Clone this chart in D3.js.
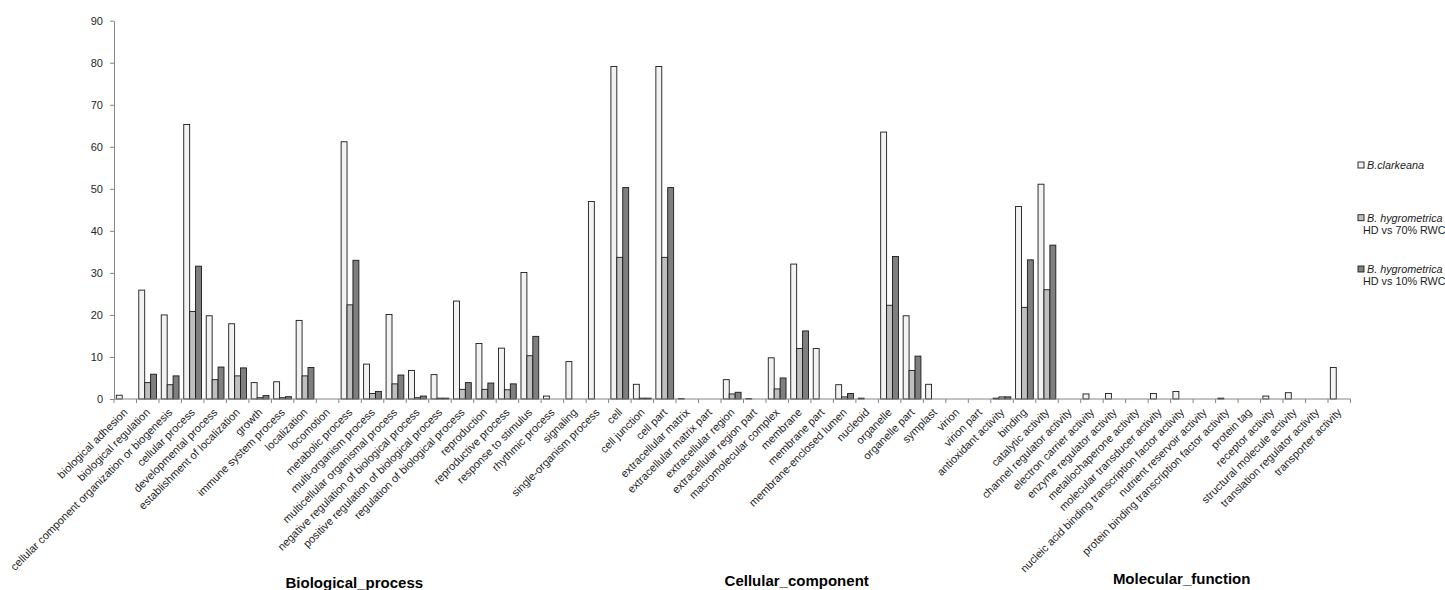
<!DOCTYPE html>
<html>
<head>
<meta charset="utf-8">
<script src="https://cdn.jsdelivr.net/npm/d3@7/dist/d3.min.js"></script>
<style>
  html, body { margin: 0; padding: 0; background: #fff; }
  svg { display: block; font-family: "Liberation Sans", Arial, sans-serif; }
  .lbl { opacity: 0.99; }
</style>
</head>
<body>
<svg id="chart" width="1445" height="590"></svg>
<script>
// ---- Data ----
const bpCategories = ["biological adhesion","biological regulation","cellular component organization or biogenesis","cellular process","developmental process","establishment of localization","growth","immune system process","localization","locomotion","metabolic process","multi-organism process","multicellular organismal process","negative regulation of biological process","positive regulation of biological process","regulation of biological process","reproduction","reproductive process","response to stimulus","rhythmic process","signaling","single-organism process"];
const ccCategories = ["cell","cell junction","cell part","extracellular matrix","extracellular matrix part","extracellular region","extracellular region part","macromolecular complex","membrane","membrane part","membrane-enclosed lumen","nucleoid","organelle","organelle part","symplast","virion","virion part"];
const mfCategories = ["antioxidant activity","binding","catalytic activity","channel regulator activity","electron carrier activity","enzyme regulator activity","metallochaperone activity","molecular transducer activity","nucleic acid binding transcription factor activity","nutrient reservoir activity","protein binding transcription factor activity","protein tag","receptor activity","structural molecule activity","translation regulator activity","transporter activity"];
const groupTitles = ["Biological_process","Cellular_component","Molecular_function"];

const seriesNames = ["B.clarkeana","B. hygrometrica HD vs 70% RWC","B. hygrometrica HD vs 10% RWC"];

const clarkeana = [
  0.9, 25.9, 20.0, 65.3, 19.8, 17.9, 3.9, 4.1, 18.7, 0, 61.2, 8.3, 20.1, 6.8, 5.8, 23.3, 13.2, 12.1, 30.1, 0.7, 8.9, 47.0,
  79.1, 3.5, 79.1, 0.1, 0, 4.6, 0.1, 9.8, 32.1, 12.0, 3.4, 0.2, 63.5, 19.8, 3.5, 0, 0,
  0.2, 45.8, 51.1, 0, 1.2, 1.3, 0, 1.3, 1.8, 0, 0.2, 0, 0.7, 1.5, 0, 7.5
];
const hygro70 = [
  0, 3.9, 3.4, 20.8, 4.6, 5.5, 0.3, 0.3, 5.5, 0, 22.4, 1.3, 3.6, 0.3, 0.2, 2.3, 2.3, 2.2, 10.3, 0, 0, 0,
  33.7, 0.2, 33.7, 0, 0, 1.2, 0, 2.4, 12.0, 0, 0.5, 0, 22.3, 6.8, 0, 0, 0,
  0.5, 21.8, 26.0, 0, 0, 0, 0, 0, 0, 0, 0, 0, 0, 0, 0, 0
];
const hygro10 = [
  0, 5.9, 5.5, 31.6, 7.6, 7.4, 0.8, 0.55, 7.5, 0, 33.0, 1.8, 5.7, 0.7, 0.2, 3.9, 3.8, 3.6, 14.9, 0, 0, 0,
  50.3, 0.2, 50.3, 0, 0, 1.6, 0, 5.0, 16.2, 0, 1.3, 0, 33.9, 10.2, 0, 0, 0,
  0.5, 33.1, 36.6, 0, 0, 0, 0, 0, 0, 0, 0, 0, 0, 0, 0, 0
];
const yTicks = [0,10,20,30,40,50,60,70,80,90];

// ---- Build ----
const categories = bpCategories.concat(ccCategories, mfCategories);
const groups = [bpCategories, ccCategories, mfCategories];
const seriesValues = [clarkeana, hygro70, hygro10];
const colors = ["#f2f2f2", "#bfbfbf", "#7f7f7f"];

const svg = d3.select("#chart");
const margin = {left: 114, right: 1350.5, top: 20.7, bottom: 399};

const x0 = d3.scaleBand().domain(categories).range([margin.left, margin.right]).paddingInner(0).paddingOuter(0);
const bw = x0.bandwidth();
const x1 = d3.scaleBand().domain(d3.range(seriesNames.length)).range([bw * 0.08, bw * 0.87]);
const y = d3.scaleLinear().domain([0, 90]).range([margin.bottom, margin.top]);
const color = d3.scaleOrdinal().domain(d3.range(3)).range(colors);

// bars
const catG = svg.append("g").selectAll("g").data(categories).join("g")
  .attr("transform", d => `translate(${x0(d)},0)`);
catG.selectAll("rect")
  .data((d, i) => seriesValues.map((vals, s) => ({s, v: vals[i]})))
  .join("rect")
  .filter(d => d.v > 0)
  .attr("x", d => x1(d.s) + 0.5)
  .attr("width", x1.bandwidth())
  .attr("y", d => y(d.v))
  .attr("height", d => y(0) - y(d.v))
  .attr("fill", d => color(d.s))
  .attr("stroke", "#1a1a1a")
  .attr("stroke-width", 0.9);

// y axis
const yAxis = svg.append("g")
  .attr("class", "lbl")
  .attr("transform", `translate(${margin.left},0)`)
  .call(d3.axisLeft(y).tickValues(yTicks).tickSize(4).tickPadding(7).tickSizeOuter(0));
yAxis.select(".domain").attr("stroke", "#868686");
yAxis.selectAll(".tick line").attr("stroke", "#868686");
yAxis.selectAll(".tick text").attr("font-size", 11).attr("fill", "#262626")
  .attr("font-family", "Liberation Sans, Arial, sans-serif");

// x axis line + boundary ticks
const xAxis = svg.append("g").attr("transform", `translate(0,${y(0)})`);
xAxis.append("line").attr("x1", x0.range()[0]).attr("x2", x0.range()[1])
  .attr("stroke", "#868686");
const boundaries = categories.map(c => x0(c)).concat([x0.range()[1]]);
xAxis.selectAll("line.tk").data(boundaries).join("line").attr("class", "tk")
  .attr("x1", d => d).attr("x2", d => d).attr("y1", 0).attr("y2", 4)
  .attr("stroke", "#868686");

// category labels
svg.append("g").attr("class", "lbl").selectAll("text").data(categories).join("text")
  .attr("transform", d => `translate(${x0(d) + bw / 2 + 3},${y(0) + 14}) rotate(-45)`)
  .attr("text-anchor", "end")
  .attr("font-size", 11)
  .attr("fill", "#1a1a1a")
  .text(d => d);

// group titles
const titleBaselines = [588, 586, 584];
const titleShift = [-7, -3, 11];
svg.append("g").attr("class", "lbl").selectAll("text").data(groups).join("text")
  .attr("x", (g, i) => (x0(g[0]) + x0(g[g.length - 1]) + bw) / 2 + titleShift[i])
  .attr("y", (g, i) => titleBaselines[i])
  .attr("text-anchor", "middle")
  .attr("font-size", 15)
  .attr("font-weight", "bold")
  .attr("fill", "#000")
  .text((g, i) => groupTitles[i]);

// legend
const legendY = [165, 217.7, 269];
const lg = svg.append("g").attr("class", "lbl").selectAll("g").data(seriesNames).join("g")
  .attr("transform", (d, i) => `translate(1358,${legendY[i]})`);
lg.append("rect").attr("x", 0).attr("y", -3).attr("width", 6).attr("height", 6)
  .attr("fill", (d, i) => color(i)).attr("stroke", "#1a1a1a").attr("stroke-width", 0.9);
lg.each(function(d, i) {
  const g = d3.select(this);
  if (i === 0) {
    g.append("text").attr("x", 9).attr("y", 4).attr("font-size", 10.8).attr("font-style", "italic")
      .attr("fill", "#1a1a1a").text(d);
  } else {
    const parts = d.split(" HD");
    g.append("text").attr("x", 9).attr("y", 4).attr("font-size", 10.8).attr("font-style", "italic")
      .attr("fill", "#1a1a1a").text(parts[0]);
    g.append("text").attr("x", 5).attr("y", 16.3).attr("font-size", 10.8)
      .attr("fill", "#1a1a1a").text("HD" + parts[1]);
  }
});
</script>
</body>
</html>
